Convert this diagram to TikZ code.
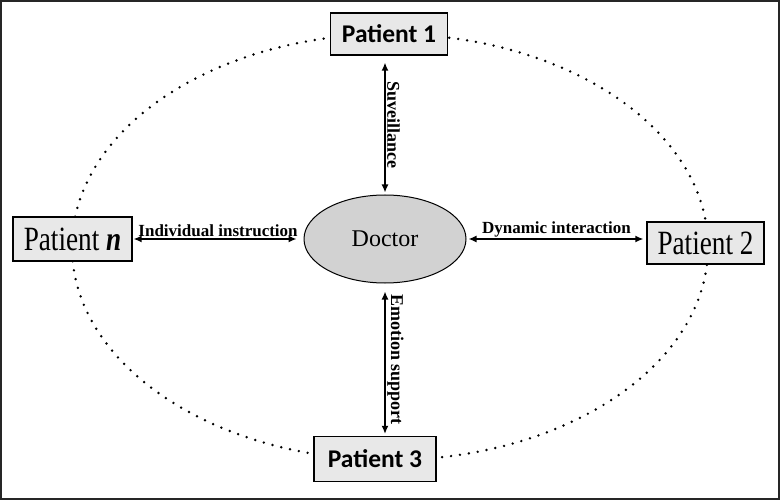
\documentclass[tikz,border=0pt]{standalone}
\usepackage{fontspec}
\setmainfont{Liberation Serif}
\newfontfamily\calibri{Carlito}
\newfontfamily\narrowserif[FakeStretch=0.8]{Liberation Serif}
\usetikzlibrary{arrows.meta}
\usetikzlibrary{shapes}

\begin{document}
\begin{tikzpicture}[x=1pt, y=-1pt]

\def\BoxHeight{43pt}
\def\RingX{318}
\def\RingY{213}

% Styles
\tikzstyle{patient} =
	[draw, line width=1.3pt, fill=gray!18, minimum height=\BoxHeight, inner sep=0pt]

\tikzstyle{sans patient} =
	[patient, font=\calibri\bfseries\fontsize{25.5}{30}\selectfont]

\tikzstyle{serif patient} =
	[patient, font=\narrowserif\fontsize{34}{38}\selectfont]

\tikzstyle{ring} =
	[line width=2.7pt, dash pattern=on 0pt off 9pt, line cap=round]

\useasboundingbox (0,0) rectangle (780,500);
\draw[line width=2pt, black!85] (1,1) rectangle (779,499);

% Ring of patients
\draw[ring] (390,247) ellipse [x radius=\RingX, y radius=\RingY];

% Nodes

\node (Doctor) at (385,239)
	[ellipse, draw, line width=1pt, fill=gray!35, minimum width=162pt, minimum height=88pt,
	 font=\fontsize{24}{28}\selectfont]
	{Doctor};

\node (PatientOne) at (389,34) [sans patient, minimum width=117pt, minimum height=42pt] {Patient 1};
\node (PatientThree) at (375,459) [sans patient, minimum width=122pt, minimum height=45pt] {Patient 3};
\node (PatientN) at (72.5,239) [serif patient, minimum width=119pt, minimum height=44pt] {Patient \textbf{\textit{n}}};
\node (PatientTwo) at (705.5,243) [serif patient, minimum width=117pt, minimum height=42pt] {Patient 2};

% Edges

\tikzstyle{link} =
	[{Latex[length=8pt,width=7pt]}-{Latex[length=8pt,width=7pt]}, line width=1.4pt]

\tikzstyle{link text} =
	[font=\fontsize{17}{20}\selectfont\bfseries, inner sep=1.5pt]

\draw[link, shorten <=7pt, shorten >=2pt]
	(Doctor.north |- PatientOne.south) -- (Doctor.north)
	node[midway, link text, rotate=-90, anchor=south, font=\fontsize{18}{20}\selectfont\bfseries] {Suveillance};

\draw[link, shorten <=8pt, shorten >=2pt]
	(Doctor.south) -- (Doctor.south |- PatientThree.north)
	node[midway, link text, rotate=-90, anchor=south, font=\fontsize{18}{20}\selectfont\bfseries] {Emotion support};

\draw[link, shorten <=1pt, shorten >=7pt]
	(PatientN.east) -- (PatientN.east -| Doctor.west)
	node[midway, link text, above] {Individual instruction};

\draw[link, shorten <=2pt, shorten >=3pt]
	(Doctor.east) -- (Doctor.east -| PatientTwo.west)
	node[midway, link text, above] {Dynamic interaction};

\end{tikzpicture}
\end{document}
